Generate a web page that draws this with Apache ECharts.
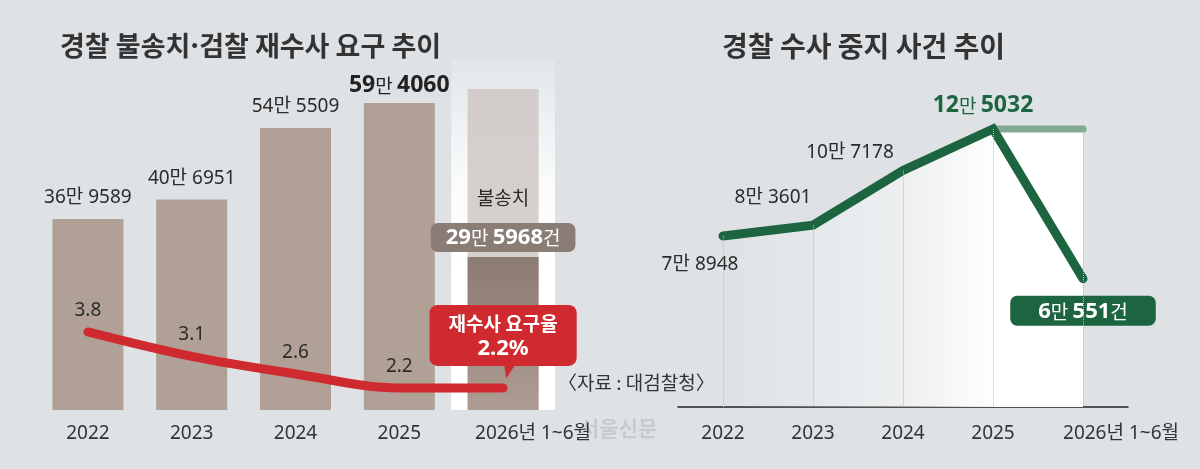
<!DOCTYPE html>
<html lang="ko">
<head>
    <meta charset="UTF-8">
    <title>경찰 불송치·검찰 재수사 요구 추이</title>
    <style>
        html, body { margin: 0; padding: 0; background: #dee2e5; }
        #container { width: 1200px; height: 469px; }
    </style>
</head>
<body>
    <div id="container"></div>
    <script src="https://cdn.jsdelivr.net/npm/echarts@6/dist/echarts.min.js"></script>
    <script>
        // data
        var years = ['2022', '2023', '2024', '2025', '2026년 1~6월'];
        var nonReferral = [369589, 406951, 545509, 594060, 295968];      // 불송치 (건)
        var nonReferralGuide = [null, null, null, null, 621000];         // 2026 연한 가이드 막대
        var reinvestRate = [3.8, 3.1, 2.6, 2.2, 2.2];                     // 재수사 요구율 (%)
        var suspended = [78948, 83601, 107178, 125032, 60551];           // 수사 중지 (건)
        var suspendedPeak = [null, null, null, 125032, 125032];

        var FONT = "'Noto Sans', 'Noto Sans CJK KR', sans-serif";
        var KFONT = "'Noto Sans CJK KR', sans-serif";
        var RATE_MIN = 1.57, SUS_MIN = 5300;

        function man(v) {
            return { a: Math.floor(v / 10000), b: v % 10000 };
        }

        var container = document.querySelector('#container'),
            ec = echarts.init(container);

        var grad = function (stops, horizontal) {
            return new echarts.graphic.LinearGradient(0, 0, horizontal ? 1 : 0, horizontal ? 0 : 1,
                stops.map(function (s) { return { offset: s[0], color: s[1] }; }));
        };

        // x axis category data, last one nudged right like the original
        function catData(shift) {
            return years.map(function (y, i) {
                if (i === years.length - 1) return { value: y, textStyle: { padding: [0, 0, 0, shift] } };
                return y;
            });
        }

        // bar labels
        var barData = nonReferral.map(function (v, i) {
            var m = man(v);
            var item = { value: v };
            if (i === 3) {
                item.label = {
                    distance: 6,
                    formatter: '{n|' + m.a + '}{r|만 }{n|' + m.b + '}',
                    rich: {
                        n: { fontFamily: FONT, fontSize: 23, fontWeight: 'bold', color: '#222' },
                        r: { fontFamily: KFONT, fontSize: 19, color: '#222' }
                    }
                };
            } else if (i === 4) {
                item.itemStyle = { color: grad([[0, '#8b7b72'], [1, '#ad9c92']]) };
                item.label = {
                    distance: 5,
                    backgroundColor: '#8a7d76',
                    borderRadius: 7,
                    padding: [4, 15, 3, 15],
                    formatter: '{n|' + m.a + '}{r|만 }{n|' + m.b + '}{r|건}',
                    rich: {
                        n: { fontFamily: FONT, fontSize: 22, fontWeight: 'bold', color: '#fff' },
                        r: { fontFamily: KFONT, fontSize: 19, color: '#fff' }
                    }
                };
            } else {
                item.label = { formatter: m.a + '만 ' + m.b };
            }
            return item;
        });

        var rateData = reinvestRate.map(function (v, i) {
            var item = { value: v };
            if (i === reinvestRate.length - 1) {
                item.label = {
                    distance: 22,
                    backgroundColor: '#cf2a2f',
                    borderRadius: 8,
                    padding: [6, 19, 5, 19],
                    align: 'center',
                    formatter: '{a|재수사 요구율}\n{b|' + v + '%}',
                    rich: {
                        a: { fontFamily: KFONT, fontSize: 19, fontWeight: 'bold', color: '#fff', lineHeight: 25, align: 'center' },
                        b: { fontFamily: FONT, fontSize: 22, fontWeight: 'bold', color: '#fff', lineHeight: 25, align: 'center' }
                    }
                };
            }
            return item;
        });

        // per point label placement for the right chart
        var susLabelPos = [
            { position: 'bottom', distance: 19, offset: [-23, 0] },
            { position: 'top', distance: 18, offset: [-40, 0] },
            { position: 'top', distance: 8, offset: [-53, 0] },
            { position: 'top', distance: 12, offset: [-10, 0] },
            { position: 'bottom', distance: 17, offset: [0, 0] }
        ];
        var susData = suspended.map(function (v, i) {
            var m = man(v);
            var lab = Object.assign({}, susLabelPos[i]);
            if (i === 3) {
                lab.formatter = '{n|' + m.a + '}{r|만 }{n|' + m.b + '}';
                lab.rich = {
                    n: { fontFamily: FONT, fontSize: 23, fontWeight: 'bold', color: '#1d6541' },
                    r: { fontFamily: KFONT, fontSize: 19, color: '#1d6541' }
                };
            } else if (i === 4) {
                lab.backgroundColor = '#1d6541';
                lab.borderRadius = 7;
                lab.padding = [5, 28, 3, 28];
                lab.formatter = '{n|' + m.a + '}{r|만 }{n|' + m.b + '}{r|건}';
                lab.rich = {
                    n: { fontFamily: FONT, fontSize: 22, fontWeight: 'bold', color: '#fff' },
                    r: { fontFamily: KFONT, fontSize: 19, color: '#fff' }
                };
            } else {
                lab.formatter = m.a + '만 ' + m.b;
            }
            return { value: v, label: lab };
        });

        var dropLines = years.map(function (y, i) {
            var top = Math.max(suspended[i], suspendedPeak[i] || 0);
            return [{ coord: [y, top], symbol: 'none' }, { coord: [y, SUS_MIN], symbol: 'none' }];
        });

        var labelBase = { show: true, fontFamily: FONT, fontSize: 19, color: '#2b2b2b' };
        var axisText = { fontFamily: FONT, fontSize: 19, color: '#333', interval: 0 };

        var option = {
            backgroundColor: '#dee2e5',
            animation: false,
            textStyle: { fontFamily: FONT },
            grid: [
                { left: 36, width: 519, top: 60, height: 350 },
                { left: 678, width: 450, top: 60, height: 347 }
            ],
            xAxis: [{
                gridIndex: 0,
                type: 'category',
                data: catData(60),
                axisLine: { show: false },
                axisTick: { show: false },
                axisLabel: Object.assign({ margin: 14 }, axisText),
                splitArea: {
                    show: true,
                    interval: 0,
                    areaStyle: {
                        color: ['rgba(0,0,0,0)', 'rgba(0,0,0,0)', 'rgba(0,0,0,0)', 'rgba(0,0,0,0)',
                            grad([[0, 'rgba(255,255,255,0.15)'], [0.35, 'rgba(255,255,255,0.85)'], [0.6, '#fff'], [1, '#fff']])]
                    }
                }
            }, {
                gridIndex: 1,
                type: 'category',
                data: catData(76),
                axisLine: { lineStyle: { color: '#222', width: 1.5 } },
                axisTick: { inside: true, length: 7, alignWithLabel: true, lineStyle: { color: '#222', width: 1.5 } },
                axisLabel: Object.assign({ margin: 17 }, axisText)
            }],
            yAxis: [
                { gridIndex: 0, type: 'value', min: 0, max: 677000, show: false },
                { gridIndex: 0, type: 'value', min: RATE_MIN, max: 11.57, show: false },
                { gridIndex: 1, type: 'value', min: SUS_MIN, max: 154740, show: false }
            ],
            graphic: [
                { type: 'text', x: 60, y: 46, style: { text: '경찰 불송치·검찰 재수사 요구 추이', font: "bold 27px 'Noto Sans CJK KR'", fill: '#333', verticalAlign: 'middle' } },
                { type: 'text', x: 722, y: 46, style: { text: '경찰 수사 중지 사건 추이', font: "bold 28px 'Noto Sans CJK KR'", fill: '#333', verticalAlign: 'middle' } },
                { type: 'text', x: 558, y: 383, style: { text: '〈자료 : 대검찰청〉', font: "19px 'Noto Sans CJK KR'", fill: '#333', verticalAlign: 'middle' } },
                { type: 'text', x: 580, y: 428, z: -1, style: { text: '서울신문', font: "bold 21px 'Noto Sans CJK KR'", fill: '#c8cbcd', verticalAlign: 'middle' } }
            ],
            series: [{
                type: 'bar',
                name: 'guide',
                xAxisIndex: 0, yAxisIndex: 0,
                data: nonReferralGuide,
                barWidth: 71,
                barGap: '-100%',
                z: 1,
                silent: true,
                itemStyle: { color: grad([[0, '#d2cdca'], [1, '#dcd6d3']]) },
                label: {
                    show: true,
                    position: ['50%', 109],
                    align: 'center',
                    verticalAlign: 'middle',
                    formatter: '불송치',
                    fontFamily: KFONT,
                    fontSize: 19,
                    color: '#2b2b2b'
                }
            }, {
                type: 'bar',
                name: '불송치',
                xAxisIndex: 0, yAxisIndex: 0,
                data: barData,
                barWidth: 71,
                z: 2,
                itemStyle: { color: '#b0a095' },
                label: Object.assign({}, labelBase, { position: 'top', distance: 12 })
            }, {
                type: 'line',
                name: '재수사 요구율',
                xAxisIndex: 0, yAxisIndex: 1,
                data: rateData,
                smooth: 0.35,
                symbol: 'circle',
                symbolSize: 0.1,
                z: 4,
                lineStyle: { color: '#cf2a2f', width: 9, cap: 'round' },
                itemStyle: { color: '#cf2a2f' },
                label: Object.assign({}, labelBase, { position: 'top', distance: 12 }),
                markPoint: {
                    silent: true,
                    data: [{
                        coord: [years[4], reinvestRate[4]],
                        symbol: 'path://M0 0 L12 0 L2 15 Z',
                        symbolKeepAspect: false,
                        symbolSize: [12, 15],
                        symbolOffset: [7, -17],
                        itemStyle: { color: '#cf2a2f' },
                        label: { show: false }
                    }]
                }
            }, {
                type: 'line',
                name: 'peak',
                xAxisIndex: 1, yAxisIndex: 2,
                data: suspendedPeak,
                symbol: 'none',
                z: 2,
                silent: true,
                lineStyle: { color: '#83a995', width: 7, cap: 'round' },
                areaStyle: { color: '#fff', opacity: 1, origin: 'start' }
            }, {
                type: 'line',
                name: '수사 중지',
                xAxisIndex: 1, yAxisIndex: 2,
                data: susData,
                symbol: 'circle',
                symbolSize: 0.1,
                z: 3,
                lineStyle: { color: '#1d6541', width: 9, cap: 'round', join: 'miter' },
                itemStyle: { color: '#1d6541' },
                label: labelBase,
                areaStyle: {
                    origin: 'start',
                    opacity: 1,
                    color: grad([[0, 'rgba(255,255,255,0)'], [0.5, 'rgba(255,255,255,0.45)'], [0.74, 'rgba(255,255,255,0.95)'], [1, '#fff']], true)
                },
                markLine: {
                    silent: true,
                    symbol: 'none',
                    label: { show: false },
                    lineStyle: { color: '#b9bcbe', type: 'dotted', width: 1 },
                    data: dropLines
                }
            }]
        };
        ec.setOption(option);
    </script>
</body>
</html>
